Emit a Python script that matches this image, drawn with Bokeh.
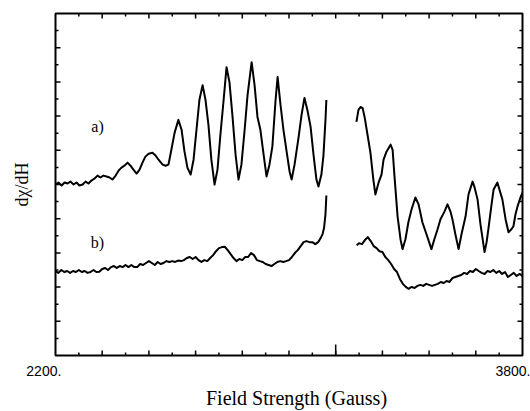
from bokeh.plotting import figure
from bokeh.models import Range1d, LinearAxis, FixedTicker, Label
from bokeh.embed import file_html
from bokeh.resources import INLINE

# ---- data: field (Gauss) and dchi/dH (arbitrary units) ----
a1_field = [2200, 2210, 2221, 2231, 2241, 2251, 2262, 2272, 2282, 2293, 2303, 2313, 2323, 2334,
            2344, 2354, 2364, 2375, 2385, 2395, 2406, 2416, 2426, 2436, 2447, 2457, 2467, 2478,
            2488, 2498, 2508, 2519, 2532, 2543, 2553, 2567, 2577, 2587, 2597, 2608, 2621, 2632,
            2642, 2652, 2663, 2673, 2683, 2693, 2704, 2714, 2724, 2734, 2745, 2755, 2765, 2776,
            2786, 2796, 2806, 2817, 2827, 2837, 2848, 2858, 2872, 2882, 2892, 2902, 2913, 2923,
            2933, 2943, 2954, 2961, 2971, 2981, 2991, 3002, 3009, 3019, 3033, 3043, 3053, 3063,
            3074, 3084, 3094, 3101, 3111, 3118, 3125, 3128]
a1_signal = [10.00, 10.12, 9.94, 10.12, 10.06, 10.17, 10.00, 10.12, 9.94, 10.00, 10.17, 10.06, 10.23, 10.35,
             10.52, 10.41, 10.52, 10.47, 10.41, 10.29, 10.52, 10.81, 10.99, 11.10, 11.28, 11.10, 10.87, 10.64,
             10.87, 11.28, 11.63, 11.80, 11.86, 11.69, 11.45, 11.16, 11.10, 11.16, 12.03, 13.02, 13.78, 13.20,
             11.92, 10.99, 10.58, 11.45, 13.20, 14.94, 15.81, 14.94, 13.49, 11.45, 10.00, 10.87, 12.91, 14.94,
             16.86, 15.99, 14.07, 11.74, 10.29, 11.16, 13.20, 15.23, 17.15, 15.81, 13.95, 13.20, 11.74, 10.47,
             11.16, 12.21, 14.94, 16.28, 14.65, 13.20, 12.03, 10.76, 10.29, 11.16, 12.79, 14.07, 15.06, 14.36,
             13.37, 11.74, 10.29, 9.88, 10.58, 11.69, 13.78, 14.94]

a2_field = [3231, 3238, 3245, 3252, 3259, 3269, 3279, 3289, 3296, 3307, 3317, 3324, 3334, 3348,
            3355, 3361, 3372, 3382, 3389, 3399, 3409, 3420, 3433, 3444, 3457, 3471, 3488, 3498,
            3509, 3519, 3533, 3543, 3553, 3560, 3570, 3581, 3591, 3605, 3615, 3629, 3635, 3646,
            3656, 3670, 3677, 3683, 3694, 3701, 3714, 3721, 3731, 3742, 3752, 3762, 3769, 3776,
            3783, 3793, 3800]
a2_signal = [13.66, 14.36, 14.53, 14.48, 13.95, 12.91, 11.86, 10.29, 9.42, 10.12, 10.58, 11.45, 11.92, 12.33,
             12.03, 10.58, 8.14, 6.80, 6.22, 6.80, 7.79, 8.55, 9.24, 8.84, 7.79, 7.09, 6.22, 6.80,
             7.38, 7.97, 8.43, 8.84, 8.43, 7.97, 7.09, 6.22, 7.09, 8.14, 9.42, 10.17, 9.88, 9.13,
             7.67, 6.05, 6.63, 7.38, 8.84, 9.71, 10.12, 9.71, 9.13, 7.97, 7.21, 7.38, 7.56, 8.26,
             8.72, 9.24, 9.53]

b1_field = [2200, 2210, 2220, 2230, 2240, 2250, 2260, 2270, 2280, 2290, 2300, 2310, 2320, 2330,
            2340, 2350, 2360, 2370, 2380, 2390, 2400, 2410, 2420, 2430, 2440, 2450, 2460, 2470,
            2480, 2490, 2500, 2510, 2520, 2530, 2540, 2550, 2560, 2570, 2580, 2590, 2600, 2610,
            2620, 2630, 2640, 2650, 2660, 2670, 2680, 2690, 2700, 2710, 2720, 2730, 2740, 2750,
            2760, 2770, 2780, 2790, 2800, 2810, 2820, 2830, 2840, 2850, 2860, 2870, 2880, 2890,
            2900, 2910, 2920, 2930, 2940, 2950, 2960, 2970, 2980, 2990, 3000, 3010, 3020, 3030,
            3040, 3050, 3060, 3070, 3080, 3090, 3100, 3110, 3115, 3120, 3125, 3128]
b1_signal = [4.94, 4.83, 5.00, 4.88, 4.94, 4.83, 4.94, 4.88, 5.00, 4.88, 4.94, 4.83, 4.88, 5.00,
             4.88, 4.90, 5.06, 5.12, 5.00, 5.17, 5.23, 5.12, 5.23, 5.17, 5.29, 5.17, 5.29, 5.17,
             5.17, 5.35, 5.29, 5.41, 5.52, 5.41, 5.29, 5.47, 5.35, 5.41, 5.52, 5.47, 5.52, 5.47,
             5.55, 5.52, 5.58, 5.70, 5.76, 5.64, 5.76, 5.58, 5.47, 5.58, 5.52, 5.70, 5.87, 6.10,
             6.28, 6.34, 6.36, 6.16, 5.93, 5.70, 5.52, 5.64, 5.58, 5.76, 5.76, 5.99, 5.87, 5.58,
             5.52, 5.47, 5.35, 5.29, 5.23, 5.35, 5.47, 5.52, 5.47, 5.52, 5.58, 5.76, 5.99, 6.16,
             6.40, 6.63, 6.69, 6.63, 6.63, 6.51, 6.63, 6.92, 7.10, 7.45, 8.26, 9.36]

b2_field = [3232, 3240, 3250, 3260, 3270, 3280, 3290, 3300, 3310, 3320, 3330, 3340, 3350, 3360,
            3370, 3380, 3390, 3400, 3410, 3420, 3430, 3440, 3450, 3460, 3470, 3480, 3490, 3500,
            3510, 3520, 3530, 3540, 3550, 3560, 3570, 3580, 3590, 3600, 3610, 3620, 3630, 3640,
            3650, 3660, 3670, 3680, 3690, 3700, 3710, 3720, 3730, 3740, 3750, 3760, 3770, 3780,
            3790, 3800]
b2_signal = [6.45, 6.57, 6.51, 6.75, 6.92, 6.69, 6.40, 6.28, 6.10, 6.05, 5.76, 5.58, 5.35, 5.06,
             4.88, 4.48, 4.19, 4.01, 3.90, 4.01, 3.95, 4.07, 4.13, 4.07, 4.19, 4.13, 4.07, 4.13,
             4.19, 4.30, 4.24, 4.36, 4.30, 4.53, 4.59, 4.65, 4.71, 4.83, 4.77, 4.94, 4.88, 5.06,
             4.94, 4.83, 4.77, 4.94, 4.88, 5.00, 4.83, 4.94, 4.77, 4.88, 4.59, 4.71, 4.83, 4.65,
             4.77, 4.65]

x_major_ticks = [2360, 2520, 2680, 2840, 3000, 3160, 3320, 3480, 3640]
x_minor_ticks = [2280, 2440, 2600, 2760, 2920, 3080, 3240, 3400, 3560, 3720]
y_major_ticks = [2, 4, 6, 8, 10, 12, 14, 16, 18]
y_minor_ticks = [1, 3, 5, 7, 9, 11, 13, 15, 17, 19]
marker_field = [3160]
x_label_ticks = [2200, 3800]
x_tick_labels = ["2200.", "3800."]

X0, X1, Y0, Y1 = 2200, 3800, 0, 20
SERIF = "Liberation Serif"
SANS = "Liberation Sans"
NB = "\u00a0"

p = figure(width=530, height=411, output_backend="svg", toolbar_location=None,
           x_range=Range1d(X0, X1), y_range=Range1d(Y0, Y1),
           x_axis_location=None, y_axis_location=None,
           min_border_left=55, min_border_right=8, min_border_top=13, min_border_bottom=54,
           background_fill_color="white", border_fill_color="white")
p.grid.visible = False
p.outline_line_color = "black"
p.outline_line_width = 2

# bottom axis: only the two end labels and the axis title
xax = LinearAxis(ticker=FixedTicker(ticks=x_label_ticks, minor_ticks=[]))
xax.axis_line_color = None
xax.major_tick_in = 0
xax.major_tick_out = 0
xax.minor_tick_in = 0
xax.minor_tick_out = 0
xax.major_label_standoff = 7
xax.major_label_overrides = {x_label_ticks[0]: x_tick_labels[0] + NB * 6,
                             x_label_ticks[1]: x_tick_labels[1]}
xax.major_label_text_font = SANS
xax.major_label_text_font_size = "14px"
xax.major_label_text_color = "black"
xax.axis_label = NB * 3 + "Field Strength (Gauss)"
xax.axis_label_text_font = SERIF
xax.axis_label_text_font_style = "normal"
xax.axis_label_text_font_size = "20px"
xax.axis_label_text_color = "black"
xax.axis_label_standoff = 5
p.add_layout(xax, "below")

# left axis: only the title
yax = LinearAxis(ticker=FixedTicker(ticks=[], minor_ticks=[]))
yax.axis_line_color = None
yax.major_tick_in = 0
yax.major_tick_out = 0
yax.minor_tick_in = 0
yax.minor_tick_out = 0
yax.axis_label = "dχ/dH"
yax.axis_label_text_font = SERIF
yax.axis_label_text_font_style = "normal"
yax.axis_label_text_font_size = "18px"
yax.axis_label_text_color = "black"
yax.axis_label_standoff = 24
p.add_layout(yax, "left")

# inward tick marks on all four sides (derived from the tick lists)
xs_per_px = (X1 - X0) / 467.0
ys_per_px = (Y1 - Y0) / 344.0
MAJ, MIN = 5, 3
for ticks, L in [(x_major_ticks, MAJ), (x_minor_ticks, MIN)]:
    n = len(ticks)
    p.segment(x0=ticks, y0=[Y0] * n, x1=ticks, y1=[Y0 + L * ys_per_px] * n, line_color="black", line_width=1.5)
    p.segment(x0=ticks, y0=[Y1] * n, x1=ticks, y1=[Y1 - L * ys_per_px] * n, line_color="black", line_width=1.5)
for ticks, L in [(y_major_ticks, MAJ), (y_minor_ticks, MIN)]:
    n = len(ticks)
    p.segment(x0=[X0] * n, y0=ticks, x1=[X0 + L * xs_per_px] * n, y1=ticks, line_color="black", line_width=1.5)
    p.segment(x0=[X1] * n, y0=ticks, x1=[X1 - L * xs_per_px] * n, y1=ticks, line_color="black", line_width=1.5)

# tall marker tick
p.segment(x0=marker_field, y0=[Y0], x1=marker_field, y1=[Y0 + 11 * ys_per_px], line_color="black", line_width=1.5)

for fx, sy in [(a1_field, a1_signal), (a2_field, a2_signal), (b1_field, b1_signal), (b2_field, b2_signal)]:
    p.line(fx, sy, line_color="black", line_width=2, line_join="round")

# curve labels
p.add_layout(Label(x=2344, y=13.37, text="a)", text_font=SERIF, text_font_size="16px",
                   text_align="center", text_baseline="middle", text_color="black"))
p.add_layout(Label(x=2344, y=6.63, text="b)", text_font=SERIF, text_font_size="16px",
                   text_align="center", text_baseline="middle", text_color="black"))

open("out.html", "w").write(file_html(p, INLINE))
